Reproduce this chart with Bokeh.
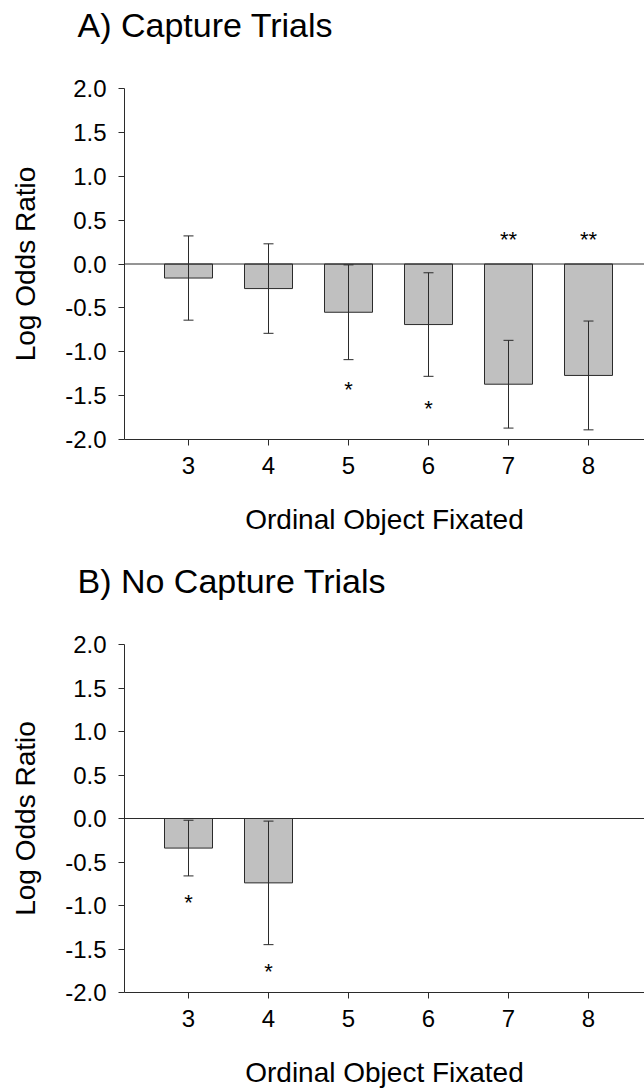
from bokeh.plotting import figure
from bokeh.layouts import column
from bokeh.models import (ColumnDataSource, Whisker, TeeHead, Span, FixedTicker,
                          NumeralTickFormatter, Range1d, Title)
from bokeh.core.properties import value
from bokeh.embed import file_html
from bokeh.resources import INLINE

# ---- data ----
x_ticks = [3, 4, 5, 6, 7, 8]
y_ticks = [-2.0, -1.5, -1.0, -0.5, 0.0, 0.5, 1.0, 1.5, 2.0]

capture_cats = [3, 4, 5, 6, 7, 8]
capture_mean = [-0.16, -0.28, -0.55, -0.69, -1.37, -1.27]
capture_err = [0.48, 0.51, 0.54, 0.59, 0.50, 0.62]
capture_sig_cats = [5, 6, 7, 8]
capture_sig_marks = ["*", "*", "**", "**"]
capture_sig_y = [-1.40, -1.61, 0.31, 0.31]

nocap_cats = [3, 4]
nocap_mean = [-0.34, -0.74]
nocap_err = [0.32, 0.71]
nocap_sig_cats = [3, 4]
nocap_sig_marks = ["*", "*"]
nocap_sig_y = [-0.93, -1.72]

X_START, X_END = 2.2, 8.7
Y_START, Y_END = -2.0, 2.0

FONT = "Liberation Sans"
LINE = "#2b2b2b"


def make_panel(title, cats, means, errs, sig_cats, sig_marks, sig_y,
               height, top_border, bottom_border):
    p = figure(width=644, height=height, output_backend="svg", toolbar_location=None,
               x_range=Range1d(X_START, X_END), y_range=Range1d(Y_START, Y_END),
               min_border_left=124, min_border_right=0, min_border_top=top_border,
               min_border_bottom=bottom_border)
    p.outline_line_color = None
    p.xgrid.grid_line_color = None
    p.ygrid.grid_line_color = None
    p.background_fill_color = "white"
    p.border_fill_color = "white"

    p.title.text = title
    p.title.text_font = FONT
    p.title.text_font_size = "34px"
    p.title.text_font_style = "normal"
    p.title.text_color = "black"
    p.title.align = "left"
    p.title.offset = -47
    p.title.standoff = 0
    # spacer between the title and the plot area
    p.add_layout(Title(text=" ", text_font_size="1px", standoff=42), "above")

    src = ColumnDataSource(dict(
        x=cats, top=means,
        upper=[m + e for m, e in zip(means, errs)],
        lower=[m - e for m, e in zip(means, errs)],
    ))
    p.vbar(x="x", top="top", bottom=0, width=0.6, source=src,
           fill_color="#c0c0c0", line_color=LINE, line_width=1)

    p.add_layout(Span(location=0, dimension="width", line_color=LINE, line_width=1))

    w = Whisker(base="x", upper="upper", lower="lower", source=src,
                line_color=LINE, line_width=1, level="overlay",
                upper_head=TeeHead(size=10, line_color=LINE, line_width=1),
                lower_head=TeeHead(size=10, line_color=LINE, line_width=1))
    p.add_layout(w)

    ssrc = ColumnDataSource(dict(x=sig_cats, y=sig_y, t=sig_marks))
    p.text(x="x", y="y", text="t", source=ssrc, text_font=value(FONT),
           text_font_size="22px", text_align="center", text_baseline="alphabetic",
           y_offset=3, text_color="black")

    for ax in (p.xaxis[0], p.yaxis[0]):
        ax.axis_line_color = LINE
        ax.axis_line_width = 1
        ax.major_tick_line_color = LINE
        ax.major_tick_out = 6
        ax.major_tick_in = 0
        ax.minor_tick_line_color = None
        ax.major_label_text_font = FONT
        ax.major_label_text_font_size = "24px"
        ax.major_label_text_color = "black"
        ax.axis_label_text_font = FONT
        ax.axis_label_text_font_size = "28px"
        ax.axis_label_text_font_style = "normal"
        ax.axis_label_text_color = "black"

    p.xaxis.ticker = FixedTicker(ticks=x_ticks)
    p.yaxis.ticker = FixedTicker(ticks=y_ticks)
    p.yaxis.formatter = NumeralTickFormatter(format="0.0")
    p.xaxis.major_label_standoff = 11
    p.yaxis.major_label_standoff = 12
    p.xaxis.axis_label = "Ordinal Object Fixated"
    p.yaxis.axis_label = "Log Odds Ratio"
    p.xaxis.axis_label_standoff = 27
    p.yaxis.axis_label_standoff = 21
    return p


pa = make_panel("A) Capture Trials", capture_cats, capture_mean, capture_err,
                capture_sig_cats, capture_sig_marks, capture_sig_y, 559, 88, 120)
pb = make_panel("B) No Capture Trials", nocap_cats, nocap_mean, nocap_err,
                nocap_sig_cats, nocap_sig_marks, nocap_sig_y, 533, 83, 100)

layout = column(pa, pb, spacing=0)
open("out.html", "w").write(file_html(layout, INLINE))
